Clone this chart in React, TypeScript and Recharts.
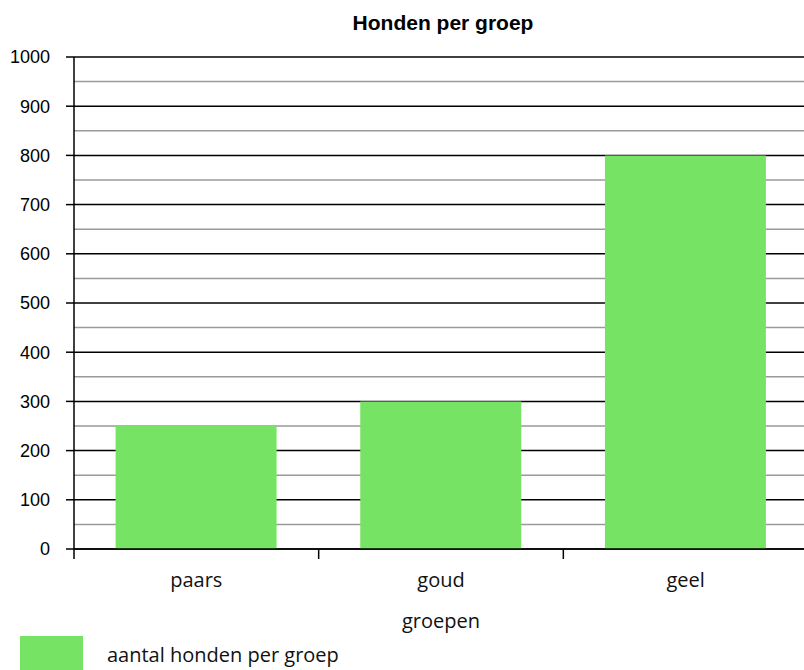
import React from "react";
import {
  BarChart,
  Bar,
  XAxis,
  YAxis,
  CartesianGrid,
  Legend,
} from "recharts";

const categories = ["paars", "goud", "geel"];
const dogCounts = [250, 300, 800];
const majorTicks = [0, 100, 200, 300, 400, 500, 600, 700, 800, 900, 1000];
const minorTicks = [50, 150, 250, 350, 450, 550, 650, 750, 850, 950];
const groupBounds = [0, 1, 2, 3];

const seriesName = "aantal honden per groep";
const barColor = "#77e365";

// slot = middle of each category band, used by the boundary tick axis
const data = categories.map((c, i) => ({ groep: c, aantal: dogCounts[i], slot: i + 0.5 }));

function LegendBox(props: any) {
  const items = props.payload || [];
  return (
    <div style={{ height: 36, position: "relative" }}>
      {items.map((it: any) => (
        <div key={it.value} style={{ display: "flex", alignItems: "center" }}>
          <div
            style={{
              width: 63,
              height: 34,
              background: it.color,
              marginLeft: 20,
              marginTop: 2,
            }}
          />
          <span
            style={{
              marginLeft: 24,
              fontFamily: "'Open Sans', sans-serif",
              fontSize: 20,
              color: "#111",
              marginTop: 4,
            }}
          >
            {it.value}
          </span>
        </div>
      ))}
    </div>
  );
}

export default function App() {
  return (
    <div
      style={{
        position: "absolute",
        left: 0,
        top: 0,
        width: 804,
        height: 670,
        overflow: "hidden",
        background: "#fff",
      }}
    >
      <div
        style={{
          position: "absolute",
          top: 11,
          left: 76,
          width: 734,
          textAlign: "center",
          fontFamily: "'Liberation Sans', Arial, sans-serif",
          fontWeight: "bold",
          fontSize: 21,
          color: "#000",
        }}
      >
        Honden per groep
      </div>
      <BarChart
        width={808}
        height={670}
        data={data}
        margin={{ top: 57, right: 0, bottom: 0, left: 0 }}
        barCategoryGap="17%"
      >
        <XAxis
          xAxisId="bounds"
          type="number"
          dataKey="slot"
          domain={[0, 3]}
          ticks={groupBounds}
          tickFormatter={() => ""}
          tickSize={10}
          height={1}
          stroke="#000"
          strokeWidth={1.5}
          allowDataOverflow
        />
        <XAxis
          xAxisId="cat"
          dataKey="groep"
          height={84}
          axisLine={false}
          tickLine={false}
          tickSize={0}
          tickMargin={23}
          tick={{ fill: "#111", fontSize: 20, fontFamily: "'Open Sans', sans-serif" }}
          label={{
            value: "groepen",
            position: "insideBottom",
            offset: 6,
            fill: "#111",
            fontSize: 20,
            fontFamily: "'Open Sans', sans-serif",
          }}
        />
        <YAxis
          yAxisId="major"
          domain={[0, 1000]}
          ticks={majorTicks}
          width={74}
          tickSize={8}
          tickMargin={16}
          stroke="#000"
          strokeWidth={1.5}
          tick={{ fill: "#000", fontSize: 18, fontFamily: "'Liberation Sans', Arial, sans-serif" }}
        />
        <CartesianGrid
          xAxisId="cat"
          yAxisId="major"
          vertical={false}
          horizontalValues={minorTicks}
          stroke="#9a9a9a"
          strokeWidth={1.5}
        />
        <CartesianGrid
          xAxisId="cat"
          yAxisId="major"
          vertical={false}
          horizontalValues={majorTicks}
          stroke="#000"
          strokeWidth={1.5}
        />
        <Legend
          verticalAlign="bottom"
          align="left"
          height={36}
          content={<LegendBox />}
        />
        <Bar
          xAxisId="cat"
          yAxisId="major"
          dataKey="aantal"
          name={seriesName}
          fill={barColor}
          isAnimationActive={false}
        />
      </BarChart>
    </div>
  );
}
